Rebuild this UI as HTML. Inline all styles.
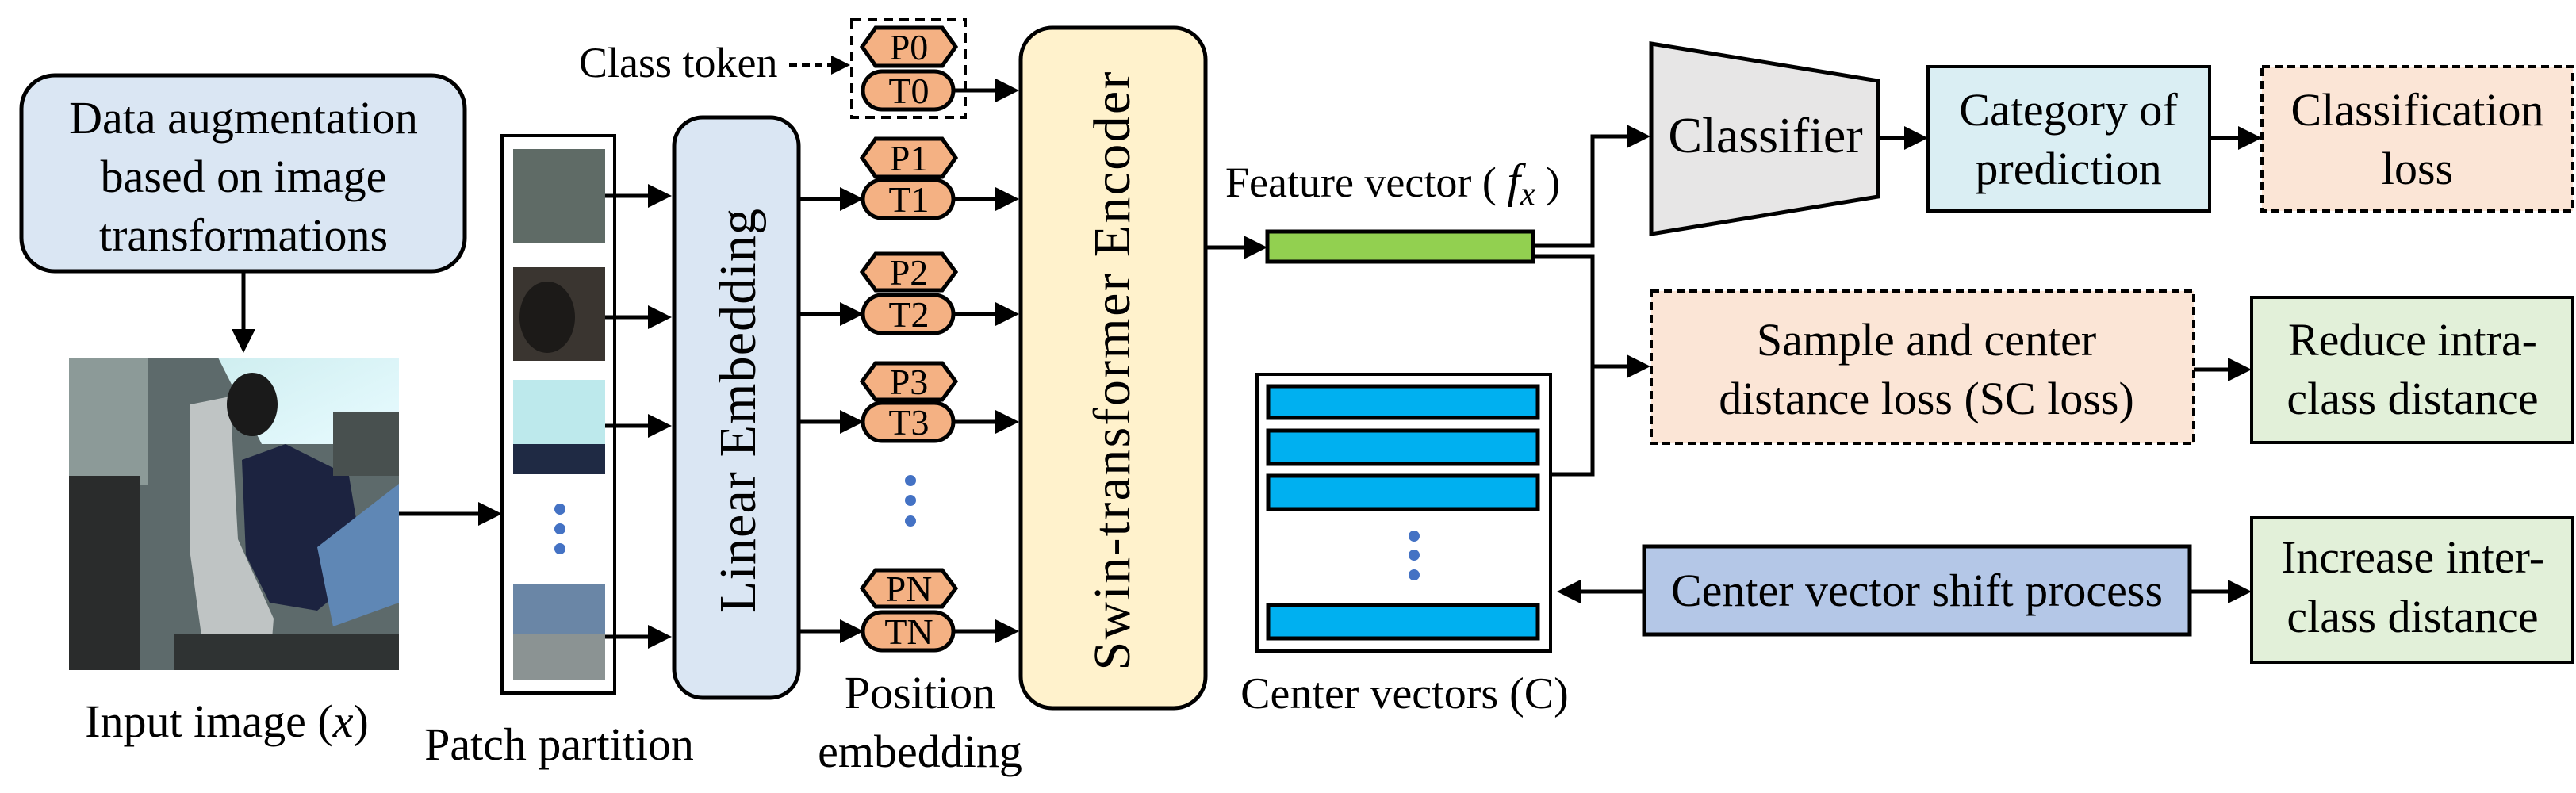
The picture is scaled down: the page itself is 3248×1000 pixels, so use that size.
<!DOCTYPE html>
<html><head><meta charset="utf-8"><style>
html,body{margin:0;padding:0;background:#fff;}
svg{display:block;font-family:"Liberation Serif","DejaVu Serif",serif;}
svg text{font-family:"Liberation Serif","DejaVu Serif",serif;fill:#000;}
</style></head><body>
<svg width="3248" height="1000" viewBox="0 0 3248 1000" xmlns="http://www.w3.org/2000/svg" font-family="Liberation Serif, DejaVu Serif, serif">
<defs>
<marker id="ah" markerWidth="6" markerHeight="6" refX="5" refY="3" orient="auto" markerUnits="strokeWidth"><path d="M0,0 L6,3 L0,6 z" fill="#000"/></marker>
<linearGradient id="win" x1="0" y1="0" x2="1" y2="1"><stop offset="0" stop-color="#cfeef0"/><stop offset="1" stop-color="#e8fbff"/></linearGradient>
</defs>
<g stroke="#000" stroke-width="5" fill="none">
<rect x="27" y="95" width="559" height="247" rx="42" fill="#dae6f3"/>
<line x1="307" y1="342" x2="307" y2="440" marker-end="url(#ah)"/>
</g>
<g font-family="Liberation Serif, DejaVu Serif, serif">
<text x="307" y="168" font-size="58" text-anchor="middle">Data augmentation</text>
<text x="307" y="242" font-size="58" text-anchor="middle">based on image</text>
<text x="307" y="316" font-size="58" text-anchor="middle">transformations</text>
</g>

<g>
<rect x="87" y="451" width="416" height="394" fill="#5d6a6b"/>
<rect x="87" y="451" width="100" height="160" fill="#8c9a98"/>
<polygon points="275,451 503,451 503,560 330,560" fill="url(#win)"/>
<rect x="87" y="600" width="90" height="245" fill="#2a2c2c"/>
<polygon points="240,510 290,500 300,680 345,780 340,845 260,845 240,700" fill="#bfc4c4"/>
<polygon points="305,580 360,560 440,600 460,720 400,770 340,760 310,700" fill="#1c2340"/>
<polygon points="400,690 503,610 503,760 420,790" fill="#5f87b5"/>
<ellipse cx="318" cy="510" rx="32" ry="40" fill="#1a1a1a"/>
<rect x="220" y="800" width="283" height="45" fill="#2f3333"/>
<rect x="420" y="520" width="83" height="80" fill="#48504f"/>
</g>
<text x="286" y="929" font-size="58" text-anchor="middle" font-family="Liberation Serif, DejaVu Serif, serif">Input image (<tspan font-style="italic">x</tspan>)</text>

<g stroke="#000" stroke-width="5" fill="none">
<line x1="503" y1="648" x2="628" y2="648" marker-end="url(#ah)"/>
<rect x="633" y="171" width="142" height="703" stroke-width="4"/>
</g>
<rect x="647" y="188" width="116" height="119" fill="#5f6b66"/>
<rect x="647" y="337" width="116" height="118" fill="#3a3530"/>
<ellipse cx="690" cy="400" rx="35" ry="45" fill="#1c1a18"/>
<rect x="647" y="479" width="116" height="119" fill="#bde9ec"/>
<rect x="647" y="560" width="116" height="38" fill="#1f2a44"/>
<rect x="647" y="737" width="116" height="120" fill="#6a86a6"/>
<rect x="647" y="800" width="116" height="57" fill="#8b9393"/>
<g fill="#4472c4"><circle cx="706" cy="642" r="7"/><circle cx="706" cy="667" r="7"/><circle cx="706" cy="692" r="7"/></g>
<text x="705" y="958" font-size="58" text-anchor="middle" font-family="Liberation Serif, DejaVu Serif, serif">Patch partition</text>

<g stroke="#000" stroke-width="5" fill="none">
<line x1="763" y1="247" x2="842" y2="247" marker-end="url(#ah)"/>
<line x1="763" y1="400" x2="842" y2="400" marker-end="url(#ah)"/>
<line x1="763" y1="537" x2="842" y2="537" marker-end="url(#ah)"/>
<line x1="763" y1="803" x2="842" y2="803" marker-end="url(#ah)"/>
<rect x="850" y="148" width="157" height="732" rx="36" fill="#dae6f3"/>
</g>
<text transform="translate(952,518) rotate(-90)" font-size="66" text-anchor="middle" textLength="510" lengthAdjust="spacing" font-family="Liberation Serif, DejaVu Serif, serif">Linear Embedding</text>

<text x="730" y="97" font-size="54" font-family="Liberation Serif, DejaVu Serif, serif">Class token</text>
<g stroke="#000" stroke-width="4" fill="none">
<line x1="995" y1="82" x2="1068" y2="82" stroke-dasharray="10,6" marker-end="url(#ah)"/>
<rect x="1074" y="25" width="143" height="123" stroke-dasharray="12,8"/>
</g>
<g stroke="#000" stroke-width="5" fill="#f4b183">
<polygon points="1087,59 1104,35 1188,35 1205,59 1188,83 1104,83"/>
<rect x="1088" y="90" width="114" height="48" rx="24"/>
<polygon points="1087,199 1104,175 1188,175 1205,199 1188,223 1104,223"/>
<rect x="1088" y="227" width="114" height="48" rx="24"/>
<polygon points="1087,343 1104,320 1188,320 1205,343 1188,366 1104,366"/>
<rect x="1088" y="372" width="114" height="48" rx="24"/>
<polygon points="1087,481 1104,458 1188,458 1205,481 1188,504 1104,504"/>
<rect x="1088" y="508" width="114" height="48" rx="24"/>
<polygon points="1087,742 1104,719 1188,719 1205,742 1188,765 1104,765"/>
<rect x="1088" y="772" width="114" height="48" rx="24"/>
</g>
<g font-size="46" text-anchor="middle" font-family="Liberation Serif, DejaVu Serif, serif">
<text x="1146" y="75">P0</text><text x="1146" y="130">T0</text>
<text x="1146" y="215">P1</text><text x="1146" y="267">T1</text>
<text x="1146" y="359">P2</text><text x="1146" y="412">T2</text>
<text x="1146" y="497">P3</text><text x="1146" y="548">T3</text>
<text x="1146" y="758">PN</text><text x="1146" y="812">TN</text>
</g>
<g fill="#4472c4"><circle cx="1148" cy="606" r="7"/><circle cx="1148" cy="631" r="7"/><circle cx="1148" cy="657" r="7"/></g>
<g stroke="#000" stroke-width="5" fill="none">
<line x1="1007" y1="251" x2="1084" y2="251" marker-end="url(#ah)"/>
<line x1="1007" y1="396" x2="1084" y2="396" marker-end="url(#ah)"/>
<line x1="1007" y1="532" x2="1084" y2="532" marker-end="url(#ah)"/>
<line x1="1007" y1="796" x2="1084" y2="796" marker-end="url(#ah)"/>
<line x1="1202" y1="114" x2="1280" y2="114" marker-end="url(#ah)"/>
<line x1="1202" y1="251" x2="1280" y2="251" marker-end="url(#ah)"/>
<line x1="1202" y1="396" x2="1280" y2="396" marker-end="url(#ah)"/>
<line x1="1202" y1="532" x2="1280" y2="532" marker-end="url(#ah)"/>
<line x1="1202" y1="796" x2="1280" y2="796" marker-end="url(#ah)"/>
<rect x="1287" y="35" width="233" height="858" rx="40" fill="#fff2cc"/>
</g>
<text x="1160" y="893" font-size="58" text-anchor="middle" font-family="Liberation Serif, DejaVu Serif, serif">Position</text>
<text x="1160" y="967" font-size="58" text-anchor="middle" font-family="Liberation Serif, DejaVu Serif, serif">embedding</text>
<text transform="translate(1424,468) rotate(-90)" font-size="66" text-anchor="middle" textLength="755" lengthAdjust="spacing" font-family="Liberation Serif, DejaVu Serif, serif">Swin-transformer Encoder</text>

<text x="1545" y="248" font-size="54" font-family="Liberation Serif, DejaVu Serif, serif">Feature vector ( <tspan font-style="italic" font-size="60">f</tspan><tspan font-style="italic" font-size="42" dy="10">x</tspan><tspan dy="-10"> )</tspan></text>
<g stroke="#000" stroke-width="5" fill="none">
<line x1="1520" y1="312" x2="1593" y2="312" marker-end="url(#ah)"/>
<rect x="1598" y="292" width="335" height="38" fill="#92d050"/>
<polyline points="1933,310 2008,310 2008,172 2076,172" marker-end="url(#ah)"/>
<polyline points="1933,323 2008,323 2008,598 1955,598"/>
<line x1="2008" y1="462" x2="2076" y2="462" marker-end="url(#ah)"/>
<polygon points="2082,55 2368,102 2368,248 2082,295" fill="#e7e6e6"/>
<line x1="2368" y1="174" x2="2426" y2="174" marker-end="url(#ah)"/>
<rect x="2431" y="84" width="355" height="182" fill="#daeef3" stroke-width="4"/>
<line x1="2786" y1="174" x2="2847" y2="174" marker-end="url(#ah)"/>
<rect x="2852" y="84" width="392" height="182" fill="#fbe5d6" stroke-width="4" stroke-dasharray="10,6"/>
<rect x="2082" y="367" width="684" height="192" fill="#fbe5d6" stroke-width="4" stroke-dasharray="10,6"/>
<line x1="2766" y1="466" x2="2834" y2="466" marker-end="url(#ah)"/>
<rect x="2839" y="375" width="405" height="183" fill="#e2f0d9" stroke-width="4"/>
<rect x="1585" y="472" width="370" height="349" stroke-width="4"/>
<g fill="#00b0f0">
<rect x="1599" y="487" width="340" height="40"/>
<rect x="1599" y="543" width="340" height="42"/>
<rect x="1599" y="600" width="340" height="42"/>
<rect x="1599" y="763" width="340" height="42"/>
</g>
<line x1="2073" y1="746" x2="1968" y2="746" marker-end="url(#ah)"/>
<rect x="2073" y="689" width="688" height="111" fill="#b4c7e7"/>
<line x1="2761" y1="746" x2="2834" y2="746" marker-end="url(#ah)"/>
<rect x="2839" y="653" width="405" height="182" fill="#e2f0d9" stroke-width="4"/>
</g>
<g fill="#4472c4"><circle cx="1783" cy="676" r="7"/><circle cx="1783" cy="700" r="7"/><circle cx="1783" cy="725" r="7"/></g>
<text x="1771" y="893" font-size="56" text-anchor="middle" font-family="Liberation Serif, DejaVu Serif, serif">Center vectors (C)</text>
<g font-size="58" text-anchor="middle" font-family="Liberation Serif, DejaVu Serif, serif">
<text x="2226" y="192" font-size="64">Classifier</text>
<text x="2608" y="158">Category of</text>
<text x="2608" y="232">prediction</text>
<text x="3048" y="158">Classification</text>
<text x="3048" y="232">loss</text>
<text x="2429" y="448">Sample  and center</text>
<text x="2429" y="522">distance loss (SC loss)</text>
<text x="3042" y="448">Reduce intra-</text>
<text x="3042" y="522">class distance</text>
<text x="2417" y="764">Center vector shift process</text>
<text x="3042" y="722">Increase inter-</text>
<text x="3042" y="797">class distance</text>
</g>
</svg>
</body></html>
